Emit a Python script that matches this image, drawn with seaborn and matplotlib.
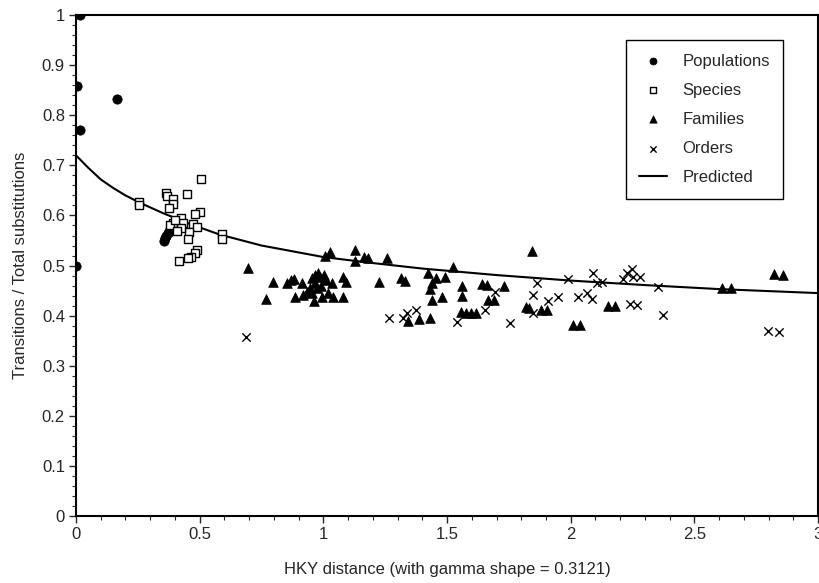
import numpy as np
import pandas as pd
import matplotlib
matplotlib.use('Agg')
import matplotlib.pyplot as plt
from matplotlib.ticker import MultipleLocator
import seaborn as sns

# data
pop_x = [0.016, 0.005, 0.016, 0.166, 0.0, 0.355, 0.36, 0.365, 0.37, 0.375, 0.38, 0.385, 0.39, 0.395]
pop_y = [1.0, 0.858, 0.77, 0.832, 0.5, 0.550, 0.556, 0.560, 0.565, 0.568, 0.572, 0.575, 0.578, 0.580]

spec_x = [0.506, 0.364, 0.368, 0.393, 0.449, 0.393, 0.376, 0.255, 0.255, 0.502, 0.481, 0.425,
          0.393, 0.433, 0.473, 0.490, 0.457, 0.425, 0.453, 0.590, 0.590, 0.490, 0.481, 0.465,
          0.453, 0.417, 0.380, 0.400, 0.410]
spec_y = [0.673, 0.645, 0.639, 0.633, 0.643, 0.623, 0.615, 0.627, 0.621, 0.607, 0.603, 0.595,
          0.585, 0.585, 0.583, 0.577, 0.567, 0.575, 0.553, 0.563, 0.553, 0.531, 0.525, 0.517,
          0.515, 0.509, 0.581, 0.590, 0.570]

fam_x = [0.696, 0.797, 0.769, 0.853, 0.870, 0.882, 0.914, 0.886, 0.918, 0.934, 0.947, 0.955,
         0.967, 0.979, 0.987, 1.003, 1.011, 0.967, 0.963, 0.995, 1.019, 1.040, 1.036, 1.080,
         1.092, 1.080, 1.007, 1.028, 1.129, 1.129, 1.165, 1.181, 1.258, 1.226, 1.315, 1.331,
         0.975, 0.99, 0.955, 1.343, 1.388, 1.432, 1.424, 1.456, 1.525, 1.493, 1.440, 1.432,
         1.440, 1.481, 1.561, 1.561, 1.557, 1.578, 1.598, 1.618, 1.642, 1.663, 1.667, 1.691,
         1.731, 1.845, 1.820, 1.833, 1.881, 1.905, 2.011, 2.039, 2.152, 2.180, 2.613, 2.646,
         2.820, 2.860]
fam_y = [0.495, 0.467, 0.433, 0.465, 0.471, 0.473, 0.465, 0.437, 0.441, 0.447, 0.455, 0.475,
         0.481, 0.485, 0.477, 0.481, 0.471, 0.465, 0.429, 0.437, 0.445, 0.437, 0.465, 0.477,
         0.467, 0.437, 0.519, 0.527, 0.531, 0.509, 0.517, 0.515, 0.515, 0.467, 0.475, 0.469,
         0.455, 0.460, 0.445, 0.389, 0.393, 0.395, 0.485, 0.475, 0.497, 0.477, 0.465, 0.453,
         0.431, 0.437, 0.459, 0.439, 0.407, 0.405, 0.405, 0.405, 0.463, 0.461, 0.431, 0.431,
         0.459, 0.529, 0.417, 0.415, 0.411, 0.411, 0.381, 0.381, 0.419, 0.419, 0.455, 0.455,
         0.483, 0.481]

ord_x = [0.688, 1.266, 1.323, 1.339, 1.375, 1.541, 1.655, 1.695, 1.756, 1.849, 1.865, 1.849,
         1.909, 1.950, 1.990, 2.031, 2.067, 2.087, 2.091, 2.108, 2.128, 2.213, 2.229, 2.249,
         2.253, 2.278, 2.241, 2.269, 2.354, 2.371, 2.799, 2.840]
ord_y = [0.357, 0.395, 0.395, 0.405, 0.411, 0.387, 0.411, 0.447, 0.385, 0.441, 0.465, 0.405,
         0.429, 0.437, 0.473, 0.437, 0.445, 0.433, 0.485, 0.465, 0.467, 0.473, 0.485, 0.493,
         0.477, 0.477, 0.423, 0.421, 0.457, 0.401, 0.369, 0.367]

pred_x = [0.0, 0.05, 0.1, 0.15, 0.2, 0.26, 0.35, 0.45, 0.58, 0.75, 1.0, 1.2, 1.4, 1.7, 2.0,
          2.3, 2.6, 3.0]
pred_y = [0.72, 0.695, 0.672, 0.655, 0.64, 0.625, 0.605, 0.585, 0.562, 0.54, 0.517, 0.505,
          0.494, 0.481, 0.47, 0.461, 0.453, 0.445]

sns.set_style('ticks')
plt.rcParams['font.family'] = ['Liberation Sans', 'DejaVu Sans']

fig = plt.figure(figsize=(8.2, 5.83), dpi=100)
ax = fig.add_axes([0.0927, 0.115, 0.905, 0.859])

sns.scatterplot(x=pop_x, y=pop_y, marker='o', s=45, color='black', edgecolor='black',
                label='Populations', ax=ax, zorder=3)
sns.scatterplot(x=spec_x, y=spec_y, marker='s', s=38, facecolor='white', edgecolor='black',
                linewidth=1.0, label='Species', ax=ax, zorder=3)
sns.scatterplot(x=fam_x, y=fam_y, marker='^', s=48, color='black', edgecolor='black',
                label='Families', ax=ax, zorder=3)
sns.scatterplot(x=ord_x, y=ord_y, marker='x', s=36, color='black', linewidth=1.0,
                label='Orders', ax=ax, zorder=3)
sns.lineplot(x=pred_x, y=pred_y, color='black', linewidth=1.5, label='Predicted', ax=ax,
             zorder=2)

ax.set_xlim(0, 3)
ax.set_ylim(0, 1)
ax.set_xticks([0, 0.5, 1, 1.5, 2, 2.5, 3])
ax.set_xticklabels(['0', '0.5', '1', '1.5', '2', '2.5', '3'])
ax.set_yticks(np.round(np.arange(0, 1.01, 0.1), 1))
ax.set_yticklabels(['0', '0.1', '0.2', '0.3', '0.4', '0.5', '0.6', '0.7', '0.8', '0.9', '1'])
ax.xaxis.set_minor_locator(MultipleLocator(0.1))
ax.yaxis.set_minor_locator(MultipleLocator(0.02))
ax.tick_params(which='major', length=5, width=1, labelsize=12, direction='out', pad=3)
ax.tick_params(which='minor', length=3, width=0.8, direction='out')
for sp in ax.spines.values():
    sp.set_visible(True)
    sp.set_linewidth(1.5)
    sp.set_color('black')

ax.set_xlabel('HKY distance (with gamma shape = 0.3121)', fontsize=12, labelpad=14)
ax.set_ylabel('Transitions / Total substitutions', fontsize=12, labelpad=10)

leg = ax.legend(loc='upper right', bbox_to_anchor=(0.953, 0.95), borderaxespad=0,
                fontsize=12, labelspacing=0.85, handlelength=1.7, handletextpad=0.9,
                borderpad=0.8, markerscale=0.75, fancybox=False, edgecolor='black',
                framealpha=1)
leg.get_frame().set_linewidth(1.0)

fig.savefig('out.png', dpi=100)
